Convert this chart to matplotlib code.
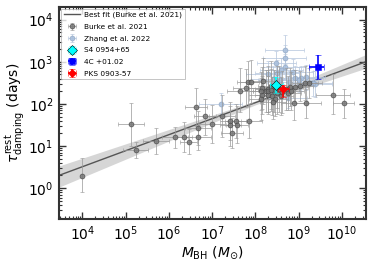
import numpy as np
import matplotlib
matplotlib.use("Agg")
import matplotlib.pyplot as plt

# ---- Burke et al. 2021 sample (log10 M_BH, log10 tau) ----
burke_logM = [4.00, 5.12, 5.23, 5.69, 6.14, 6.62, 6.83, 6.67, 7.00, 7.23, 6.34, 6.46,
              6.67, 7.42, 7.54, 7.42, 7.58, 7.85, 7.46, 7.65, 7.79, 7.83, 7.89, 8.16,
              8.18, 8.16, 8.14, 8.89, 9.16, 9.79, 10.04, 8.25, 8.30, 8.30, 8.35, 8.38,
              8.42, 8.45, 8.50, 8.55, 8.58, 8.62, 8.70, 8.75, 8.80, 8.91, 9.03, 9.15,
              9.25, 8.50, 8.40, 8.14, 8.29, 8.37, 8.83]
burke_logT = [0.30, 1.52, 0.91, 1.11, 1.21, 1.92, 1.71, 1.42, 1.52, 1.71, 1.21, 1.10,
              1.21, 1.60, 1.60, 1.51, 1.51, 1.60, 1.31, 2.31, 2.38, 2.51, 2.53, 2.38,
              2.55, 2.21, 2.12, 2.01, 2.01, 2.21, 2.01, 2.30, 2.35, 2.22, 2.42, 2.18,
              2.30, 2.12, 2.25, 2.35, 2.18, 2.28, 2.35, 2.25, 2.40, 2.41, 2.42, 2.49,
              2.50, 2.40, 2.05, 2.31, 2.31, 2.33, 2.31]
burke_dT_lo = [0.40, 0.53, 0.20, 0.30, 0.25, 0.45, 0.45, 0.40, 0.45, 0.50, 0.35, 0.30,
               0.30, 0.45, 0.40, 0.50, 0.45, 0.40, 0.35, 0.50, 0.45, 0.55, 0.50, 0.50,
               0.55, 0.45, 0.50, 0.40, 0.35, 0.45, 0.35, 0.50, 0.55, 0.45, 0.55, 0.45,
               0.50, 0.40, 0.50, 0.55, 0.45, 0.50, 0.50, 0.40, 0.45, 0.40, 0.35, 0.40,
               0.35, 0.50, 0.40, 0.45, 0.50, 0.50, 0.45]
burke_dT_hi = [0.41, 0.49, 0.19, 0.31, 0.25, 0.45, 0.40, 0.40, 0.45, 0.50, 0.35, 0.30,
               0.30, 0.45, 0.40, 0.45, 0.45, 0.40, 0.35, 0.55, 0.45, 0.50, 0.50, 0.50,
               0.55, 0.45, 0.50, 0.40, 0.35, 0.50, 0.35, 0.50, 0.55, 0.45, 0.60, 0.45,
               0.50, 0.40, 0.50, 0.55, 0.45, 0.50, 0.50, 0.40, 0.45, 0.40, 0.35, 0.40,
               0.35, 0.50, 0.40, 0.45, 0.50, 0.50, 0.45]
burke_dM = [0.00, 0.30, 0.29, 0.30, 0.30, 0.25, 0.25, 0.30, 0.30, 0.30, 0.20, 0.20,
            0.30, 0.25, 0.25, 0.25, 0.25, 0.30, 0.25, 0.30, 0.30, 0.25, 0.25, 0.30,
            0.30, 0.30, 0.30, 0.30, 0.35, 0.40, 0.25, 0.30, 0.30, 0.30, 0.30, 0.30,
            0.30, 0.30, 0.30, 0.30, 0.30, 0.30, 0.30, 0.30, 0.30, 0.30, 0.30, 0.30,
            0.30, 0.30, 0.30, 0.30, 0.30, 0.30, 0.30]

# ---- Zhang et al. 2022 sample ----
zhang_logM = [8.68, 8.68, 8.48, 8.29, 8.50, 8.68, 8.87, 8.77, 8.91, 9.06, 9.16, 9.37,
              8.75, 7.20, 8.56, 8.60, 9.00, 8.40, 9.33]
zhang_logT = [3.29, 3.10, 2.96, 2.71, 2.74, 2.88, 2.76, 2.53, 2.61, 2.61, 2.63, 2.47,
              2.15, 2.00, 2.57, 2.80, 2.57, 2.60, 2.49]
zhang_dT = [0.35, 0.30, 0.30, 0.30, 0.30, 0.30, 0.30, 0.25, 0.30, 0.30, 0.30, 0.30,
            0.25, 0.25, 0.30, 0.30, 0.30, 0.30, 0.30]
zhang_dM = [0.45, 0.50, 0.45, 0.50, 0.50, 0.50, 0.45, 0.50, 0.50, 0.50, 0.45, 0.40,
            0.45, 0.50, 0.50, 0.50, 0.45, 0.50, 0.45]

# ---- Individual sources (logM, logtau, dlogM lo/hi, dlogtau lo/hi) ----
s4_logM, s4_logT, s4_dM, s4_dT = 8.48, 2.45, (0.15, 0.15), (0.19, 0.18)
c4_logM, c4_logT, c4_dM, c4_dT = 9.45, 2.88, (0.21, 0.13), (0.30, 0.28)
pks_logM, pks_logT, pks_dM, pks_dT = 8.64, 2.35, (0.12, 0.13), (0.18, 0.09)

# ---- Best fit (Burke et al. 2021): tau = A (M/1e8)^B ----
fit_A, fit_A_lo, fit_A_hi = 107.0, 12.0, 11.0
fit_B, fit_B_lo, fit_B_hi = 0.38, 0.04, 0.05

# ---- Tick positions ----
x_major_exp = [4, 5, 6, 7, 8, 9, 10]
y_major_exp = [0, 1, 2, 3, 4]


def to_lin(logv, dlo, dhi):
    v = 10 ** np.asarray(logv)
    lo = v - 10 ** (np.asarray(logv) - np.asarray(dlo))
    hi = 10 ** (np.asarray(logv) + np.asarray(dhi)) - v
    return v, np.vstack([lo, hi])


fig = plt.figure(figsize=(3.74, 2.67), dpi=100)
ax = fig.add_axes([0.158, 0.18, 0.821, 0.794])

xlim = (10 ** 3.46, 10 ** 10.56)
Mg = np.logspace(3.3, 10.7, 300)
combos = []
for a in (fit_A - fit_A_lo, fit_A + fit_A_hi):
    for b in (fit_B - fit_B_lo, fit_B + fit_B_hi):
        combos.append(a * (Mg / 1e8) ** b)
combos = np.array(combos)
ax.fill_between(Mg, combos.min(axis=0), combos.max(axis=0), color='#bbbbbb', alpha=0.6, lw=0, zorder=1)
ax.plot(Mg, fit_A * (Mg / 1e8) ** fit_B, color='#555555', lw=1.0, zorder=2,
        label='Best fit (Burke et al. 2021)')

# Burke
bx, bxe = to_lin(burke_logM, burke_dM, burke_dM)
by, bye = to_lin(burke_logT, burke_dT_lo, burke_dT_hi)
ax.errorbar(bx, by, xerr=bxe, yerr=bye, fmt='o', ms=3.5, mfc='#777777', mec='#444444',
            mew=0.5, ecolor='#999999', elinewidth=0.6, capsize=1.5, capthick=0.6,
            alpha=0.85, zorder=4, label='Burke et al. 2021')

# Zhang
zx, zxe = to_lin(zhang_logM, zhang_dM, zhang_dM)
zy, zye = to_lin(zhang_logT, zhang_dT, zhang_dT)
ax.errorbar(zx, zy, xerr=zxe, yerr=zye, fmt='o', ms=3.5, mfc='#a9bfdc', mec='#8fa6c4',
            mew=0.5, ecolor='#b8c8de', elinewidth=0.6, capsize=1.5, capthick=0.6,
            alpha=0.9, zorder=3, label='Zhang et al. 2022')

# Special sources
for lm, lt, dm, dt, fmt, col, ms, lab in [
        (s4_logM, s4_logT, s4_dM, s4_dT, 'D', 'cyan', 5.5, 'S4 0954+65'),
        (c4_logM, c4_logT, c4_dM, c4_dT, 's', 'blue', 5, '4C +01.02'),
        (pks_logM, pks_logT, pks_dM, pks_dT, 'D', 'red', 4.5, 'PKS 0903-57')]:
    x, xe = to_lin([lm], [dm[0]], [dm[1]])
    y, ye = to_lin([lt], [dt[0]], [dt[1]])
    ax.errorbar(x, y, xerr=xe, yerr=ye, fmt=fmt, ms=ms, mfc=col,
                mec='black' if col == 'cyan' else col, mew=0.4,
                ecolor=col, elinewidth=1.2, capsize=2, capthick=1.0, zorder=6, label=lab)

ax.set_xscale('log')
ax.set_yscale('log')
ax.set_xlim(*xlim)
ax.set_ylim(10 ** -0.73, 10 ** 4.3)

ax.xaxis.set_major_locator(matplotlib.ticker.FixedLocator([10.0 ** e for e in x_major_exp]))
ax.yaxis.set_major_locator(matplotlib.ticker.FixedLocator([10.0 ** e for e in y_major_exp]))
ax.xaxis.set_major_formatter(matplotlib.ticker.LogFormatterSciNotation())
ax.yaxis.set_major_formatter(matplotlib.ticker.LogFormatterSciNotation())
ax.xaxis.set_minor_locator(matplotlib.ticker.LogLocator(base=10, subs=np.arange(2, 10), numticks=20))
ax.yaxis.set_minor_locator(matplotlib.ticker.LogLocator(base=10, subs=np.arange(2, 10), numticks=20))
ax.xaxis.set_minor_formatter(matplotlib.ticker.NullFormatter())
ax.yaxis.set_minor_formatter(matplotlib.ticker.NullFormatter())

ax.tick_params(which='both', direction='in', top=True, right=True, colors='#333333',
               labelcolor='black')
ax.tick_params(which='major', length=5, width=1, labelsize=10, pad=4)
ax.tick_params(which='minor', length=2.5, width=0.8)
for s in ax.spines.values():
    s.set_linewidth(1.5)
    s.set_color('#333333')

ax.set_xlabel(r'$M_{\rm BH}$ ($M_{\odot}$)', fontsize=10, labelpad=1)
ax.set_ylabel(r'$\tau^{\rm rest}_{\rm damping}$ (days)', fontsize=10, labelpad=0.5)

leg = ax.legend(loc='upper left', fontsize=5.3, frameon=True, fancybox=False,
                edgecolor='#aaaaaa', borderaxespad=0.3, handletextpad=0.6,
                labelspacing=0.75, handlelength=2.2, borderpad=0.35)
leg.get_frame().set_linewidth(0.6)

fig.savefig('out.png', dpi=100)
